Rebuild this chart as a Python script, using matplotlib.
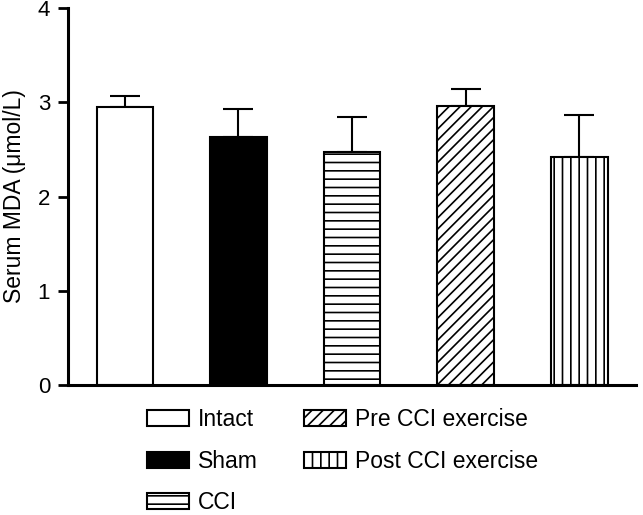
import matplotlib.pyplot as plt
import numpy as np

plt.rcParams['font.family'] = ['Liberation Sans', 'DejaVu Sans']
plt.rcParams['hatch.linewidth'] = 1.2

# data
groups = ["Intact", "Sham", "CCI", "Pre CCI exercise", "Post CCI exercise"]
mda = [2.95, 2.63, 2.47, 2.96, 2.42]
sem = [0.12, 0.30, 0.37, 0.18, 0.45]
fills = ["white", "black", "white", "white", "white"]
hatches = ["", "", "--", "///", "||"]

fig = plt.figure(figsize=(6.43, 5.15), dpi=100)
ax = fig.add_axes([0.106, 0.2524, 0.883, 0.732])

x = np.arange(len(groups))
for i in range(len(groups)):
    ax.bar(x[i], mda[i], width=0.5, color=fills[i], edgecolor="black",
           linewidth=1.5, hatch=hatches[i], label=groups[i], zorder=2)
ax.errorbar(x, mda, yerr=[np.zeros(len(sem)), sem], fmt="none", ecolor="black",
            elinewidth=1.5, capsize=11, capthick=1.5, zorder=1)

ax.set_xlim(-0.5, 4.5)
ax.set_ylim(0, 4)
ax.set_yticks([0, 1, 2, 3, 4])
ax.set_xticks([])
ax.spines["top"].set_visible(False)
ax.spines["right"].set_visible(False)
ax.spines["left"].set_linewidth(2.2)
ax.spines["bottom"].set_linewidth(2.2)
ax.tick_params(axis="y", direction="out", length=7, width=2, labelsize=16, pad=6)
ax.set_ylabel("Serum MDA (\u03bcmol/L)", fontsize=16.5, labelpad=8)

fig.legend(loc="upper left", bbox_to_anchor=(0.228, 0.207), ncol=2, frameon=False,
           fontsize=16.5, handlelength=1.85, handleheight=0.7, handletextpad=0.4,
           labelspacing=0.8, columnspacing=2.0, borderpad=0, borderaxespad=0)

fig.savefig("out.png", dpi=100)
